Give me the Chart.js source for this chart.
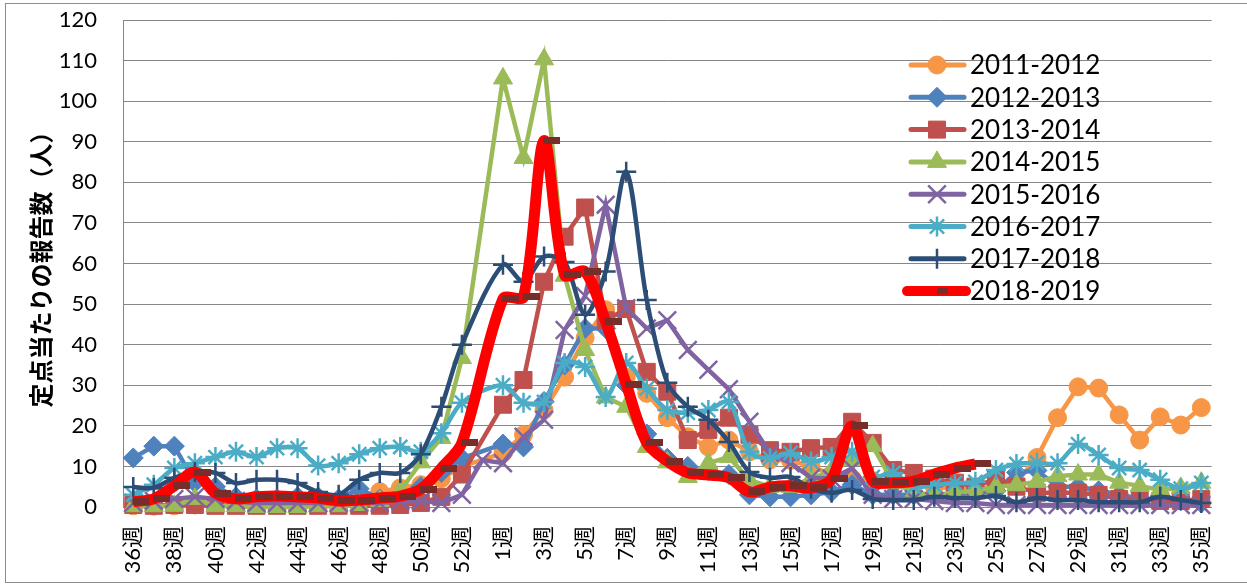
<!DOCTYPE html>
<html>
<head>
<meta charset="utf-8">
<script src="https://cdn.jsdelivr.net/npm/chart.js"></script>
<style>
  html, body { margin: 0; padding: 0; background: #fff; }
  #wrap { width: 1247px; height: 584px; }
</style>
</head>
<body>
<div id="wrap"><canvas id="chart" width="1247" height="584"></canvas></div>
<script>
// x categories (season week order, 53週 only used by 2015-2016)
const weeks = [
  '36週','37週','38週','39週','40週','41週','42週','43週','44週','45週','46週','47週','48週','49週','50週','51週','52週',
  '53週',
  '1週','2週','3週','4週','5週','6週','7週','8週','9週','10週',
  '11週','12週','13週','14週','15週','16週','17週','18週','19週','20週',
  '21週','22週','23週','24週','25週','26週','27週','28週','29週','30週',
  '31週','32週','33週','34週','35週'
];

const seasonNames = ['2011-2012','2012-2013','2013-2014','2014-2015','2015-2016','2016-2017','2017-2018','2018-2019'];

const s2011 = [
  0.3,0.2,0.3,0.5,0.5,0.6,0.8,0.8,1.0,1.2,1.5,2.0,3.8,4.7,5.5,7.0,10.0,
  null,
  13.3,17.8,23.9,32.0,41.7,48.6,32,28,22,17.3,
  14.8,16.5,13.6,11.6,11.5,10,8,7,6.5,6,
  5.5,5,4.5,4.5,5,6,12.2,22,29.6,29.3,
  22.7,16.5,22.2,20.2,24.5
];
const s2012 = [
  12.1,15,15,6,5,2.5,2,2,2.5,2.5,2,4.5,2,2.5,5,8.5,12,
  null,
  15.5,14.8,26,35,44,44,30,18,12,10,
  9,8,3,2.5,2.5,3,3.7,5.5,3,3,
  3,3,3,3.5,4,8.5,9,5,5,4,
  3,2,2,1.5,1
];
const s2013 = [
  0.5,0.3,0.5,0.5,0.3,0.3,0.3,0.3,0.3,0.3,0.3,0.3,0.3,0.5,1,2.5,8,
  null,
  25.2,31.3,55.5,66.6,73.8,46,48.8,33.3,28.4,16.5,
  19,22,17.8,14,13.6,14.5,14.8,21,15.8,9.1,
  8.4,7,6,5,7,5,3.5,3.5,3.5,3,
  2,2,1.5,1.5,2
];
const s2014 = [
  0.2,0.2,0.3,2,0.2,0.2,0,0,0,0.2,0.2,0.5,1.5,4,11,17,36.7,
  null,
  105.6,86,110.3,57,38.7,27,24.7,14.8,11,7.4,
  10.8,12.3,6.6,5,5,7,9,11.6,15,6,
  3.5,3,3.5,4,5,5.4,6.2,7.6,8,8,
  6,5.2,4.2,4.7,6
];
const s2015 = [
  1,1.5,2,2.5,2,1.5,1,1,1,1,1,1,1,1.5,1.5,1,3,
  11.6,
  10.8,17.3,21.5,43.6,52,74.5,49,44,46,38.7,
  33.8,29,21,13.3,10.8,7.2,7,9.5,3,2,
  2,1.5,1,1,0.5,0.5,0.5,0.5,0.5,0.5,
  0.5,0.5,0.5,0.5,0.5
];
const s2016 = [
  3,5.5,9.6,10.8,12.3,13.6,12.3,14.5,14.5,10.2,10.8,13,14.5,14.8,13.6,18.2,25.7,
  null,
  30,25.7,25.9,35.5,34.5,27.1,35.5,29.2,23.9,23.2,
  23.9,25.9,13.6,12,13.3,11.2,12.3,13.6,7.4,8.4,
  5,5.4,5.9,6.2,9.1,10.6,10.9,10.8,15.5,12.8,
  9.6,9.1,6.7,4.5,5.9
];
const s2017 = [
  4.9,4.7,7.2,8.6,8.4,5.9,6.7,6.7,5.9,3.7,3,6.7,8.4,8.4,13,24.7,40,
  null,
  59.7,55.5,61.7,60.4,47.4,58,82.6,51,30.6,24.7,
  21.5,16,8.6,7.2,7.4,4.5,3.5,4.2,2,1.7,
  1.7,2.5,2.2,2.2,2.7,1.2,2.2,1.7,1.7,1.2,
  1.2,1.2,2.5,1.7,1
];
const s2018 = [
  1.3,2.0,5.2,8.6,3.4,2.0,2.5,2.7,2.5,2.2,1.5,1.7,2.2,2.7,4.4,9.6,15.8,
  null,
  51.3,51.8,90.3,57.2,58,45.6,30.3,15.8,11.3,8.4,
  7.9,7.2,3.7,4.9,5.2,4.7,6.9,20,6.4,6.0,
  6.4,8.1,9.6,10.6,null,null,null,null,null,null,
  null,null,null,null,null
];

const yTicks = [0,10,20,30,40,50,60,70,80,90,100,110,120];

const FONT = "Lato, 'Noto Sans CJK JP', sans-serif";
const GRID = '#868686';
const DASH_COLOR = '#772D2A';

// Excel style dash marker, drawn to the right of the point
function dashMarker() {
  const c = document.createElement('canvas');
  c.width = 32; c.height = 7;
  const g = c.getContext('2d');
  g.fillStyle = DASH_COLOR;
  g.fillRect(15, 0, 17, 7);
  return c;
}

function series(label, data, color, style, radius, opts) {
  return Object.assign({
    label: label,
    data: data,
    borderColor: color,
    backgroundColor: color,
    borderWidth: 4.5,
    pointStyle: style,
    pointRadius: radius,
    pointBackgroundColor: color,
    pointBorderColor: color,
    pointBorderWidth: 1,
    tension: 0,
    spanGaps: true,
    clip: false
  }, opts || {});
}

const datasets = [
  series(seasonNames[0], s2011, '#F79646', 'circle', 9),
  series(seasonNames[1], s2012, '#4F81BD', 'rectRot', 10),
  series(seasonNames[2], s2013, '#C0504D', 'rect', 12),
  series(seasonNames[3], s2014, '#9BBB59', 'triangle', 11),
  series(seasonNames[4], s2015, '#8064A2', 'crossRot', 12.5, { pointBorderWidth: 2.5 }),
  series(seasonNames[5], s2016, '#4BACC6', 'star', 10, { pointBorderWidth: 2.5, tension: 0.3 }),
  series(seasonNames[6], s2017, '#2C4D75', 'cross', 10, { pointBorderWidth: 2.5, tension: 0.3 }),
  series(seasonNames[7], s2018, '#FF0000', dashMarker(), 8, { borderWidth: 11, tension: 0.3 })
];
// later seasons on top, like the original
datasets.forEach((d, i) => { d.order = datasets.length - 1 - i; });

function legendMarker(ctx, ds, x, y) {
  const r = ds.pointRadius;
  ctx.fillStyle = ds.pointBackgroundColor;
  ctx.strokeStyle = ds.pointBorderColor;
  ctx.lineWidth = ds.pointBorderWidth;
  ctx.beginPath();
  const st = ds.pointStyle;
  if (typeof st !== 'string') {
    ctx.fillStyle = DASH_COLOR;
    ctx.fillRect(x, y - 3, 11, 6);
    return;
  }
  if (st === 'circle') {
    ctx.arc(x, y, r, 0, Math.PI * 2);
    ctx.fill(); ctx.stroke();
  } else if (st === 'rectRot') {
    ctx.moveTo(x, y - r); ctx.lineTo(x + r, y); ctx.lineTo(x, y + r); ctx.lineTo(x - r, y); ctx.closePath();
    ctx.fill(); ctx.stroke();
  } else if (st === 'rect') {
    const s = r * Math.SQRT1_2;
    ctx.rect(x - s, y - s, 2 * s, 2 * s);
    ctx.fill(); ctx.stroke();
  } else if (st === 'triangle') {
    ctx.moveTo(x, y - r);
    ctx.lineTo(x + r * 0.866, y + r / 2);
    ctx.lineTo(x - r * 0.866, y + r / 2);
    ctx.closePath();
    ctx.fill(); ctx.stroke();
  } else {
    const d = r * Math.SQRT1_2;
    if (st === 'cross' || st === 'star') {
      ctx.moveTo(x, y - r); ctx.lineTo(x, y + r);
      ctx.moveTo(x - r, y); ctx.lineTo(x + r, y);
    }
    if (st === 'crossRot' || st === 'star') {
      ctx.moveTo(x - d, y - d); ctx.lineTo(x + d, y + d);
      ctx.moveTo(x + d, y - d); ctx.lineTo(x - d, y + d);
    }
    ctx.stroke();
  }
}

const frameAndLegend = {
  id: 'frameAndLegend',
  afterDraw(chart) {
    const ctx = chart.ctx;
    ctx.save();
    // outer chart frame
    ctx.strokeStyle = '#8C8C8C';
    ctx.lineWidth = 1;
    ctx.strokeRect(5.5, 3.5, 1300, 579);

    chart.data.datasets.forEach((ds, i) => {
      const y = 65 + i * 32.3;
      const thick = ds.borderWidth === 11;
      ctx.strokeStyle = ds.borderColor;
      ctx.lineWidth = thick ? 10 : 5;
      ctx.lineCap = 'round';
      ctx.beginPath();
      ctx.moveTo(thick ? 907 : 911, y);
      ctx.lineTo(thick ? 966 : 964, y);
      ctx.stroke();
      ctx.lineCap = 'butt';
      legendMarker(ctx, ds, 937, y);
      ctx.fillStyle = '#000';
      ctx.font = '26px ' + FONT;
      ctx.textAlign = 'left';
      ctx.textBaseline = 'middle';
      ctx.fillText(ds.label, 970, y + 1);
    });
    ctx.restore();
  }
};

new Chart(document.getElementById('chart'), {
  type: 'line',
  data: { labels: weeks, datasets: datasets },
  plugins: [frameAndLegend],
  options: {
    responsive: false,
    animation: false,
    events: [],
    layout: { autoPadding: false, padding: { top: 20, right: 31, bottom: 0, left: 0 } },
    plugins: {
      legend: { display: false },
      tooltip: { enabled: false }
    },
    scales: {
      x: {
        type: 'category',
        offset: true,
        grid: { display: false, drawTicks: false },
        border: { display: true, color: GRID, width: 1 },
        afterFit: s => { s.height = 77; },
        ticks: {
          autoSkip: false,
          minRotation: 90,
          maxRotation: 90,
          padding: 19,
          color: '#000',
          font: { family: FONT, size: 22 },
          callback: (v, i) => (i % 2 === 0 ? weeks[i] : '')
        }
      },
      y: {
        min: 0,
        max: 120,
        afterFit: s => { s.width = 123; s.paddingTop = 0; s.paddingBottom = 0; },
        afterBuildTicks: s => { s.ticks = yTicks.map(v => ({ value: v })); },
        grid: { color: GRID, lineWidth: 1, drawTicks: false },
        border: { display: true, color: GRID, width: 1 },
        ticks: {
          padding: 26,
          color: '#000',
          font: { family: FONT, size: 22 }
        },
        title: {
          display: true,
          text: '定点当たりの報告数（人）',
          color: '#000',
          padding: { top: 26, bottom: 0 },
          font: { family: "'Noto Sans CJK JP', sans-serif", size: 24, weight: 'bold' }
        }
      }
    }
  }
});
</script>
</body>
</html>
